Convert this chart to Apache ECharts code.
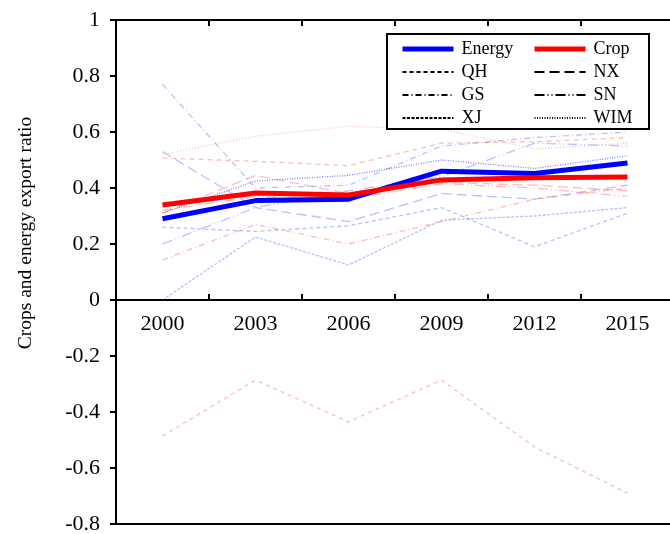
<!DOCTYPE html>
<html>
<head>
<meta charset="utf-8">
<script src="https://cdn.jsdelivr.net/npm/echarts@6/dist/echarts.min.js"></script>
<style>html,body{margin:0;padding:0;background:#fff}#c{width:670px;height:534px}</style>
</head>
<body>
<div id="c"></div>
<script>
var years = ['2000','2003','2006','2009','2012','2015'];
var yTicks = [-0.8,-0.6,-0.4,-0.2,0,0.2,0.4,0.6,0.8,1];

var energy = [0.29, 0.355, 0.36, 0.46, 0.452, 0.489];
var crop   = [0.339, 0.382, 0.375, 0.429, 0.437, 0.439];

// province energy (blue, faint)
var energyQH  = [0.26, 0.245, 0.265, 0.33, 0.19, 0.31];
var energyNX  = [0.53, 0.33, 0.28, 0.38, 0.36, 0.41];
var energyGS  = [0.77, 0.40, 0.41, 0.55, 0.58, 0.60];
var energySN  = [0.20, 0.33, 0.39, 0.44, 0.56, 0.55];
var energyXJ  = [0.00, 0.225, 0.125, 0.285, 0.30, 0.33];
var energyWIM = [0.31, 0.425, 0.445, 0.50, 0.47, 0.515];

// province crop (red, faint)
var cropQH  = [0.507, 0.495, 0.48, 0.56, 0.565, 0.58];
var cropNX  = [0.31, 0.445, 0.38, 0.42, 0.41, 0.39];
var cropGS  = [0.143, 0.27, 0.20, 0.28, 0.36, 0.40];
var cropSN  = [0.32, 0.37, 0.36, 0.415, 0.40, 0.37];
var cropXJ  = [-0.486, -0.286, -0.435, -0.286, -0.525, -0.69];
var cropWIM = [0.52, 0.585, 0.62, 0.61, 0.54, 0.56];

var dashes = {
  QH: [4, 3],
  NX: [10, 5],
  GS: [6, 3, 1, 3],
  SN: [10, 3, 1, 3, 1, 3],
  XJ: [3, 1.5],
  WIM: [1, 1.5]
};
var provinces = ['QH','NX','GS','SN','XJ','WIM'];
var energyProv = {QH: energyQH, NX: energyNX, GS: energyGS, SN: energySN, XJ: energyXJ, WIM: energyWIM};
var cropProv = {QH: cropQH, NX: cropNX, GS: cropGS, SN: cropSN, XJ: cropXJ, WIM: cropWIM};
var cropDash = {QH: [5, 4], NX: [10, 5], GS: [6, 3, 1, 3], SN: [10, 3, 1, 3, 1, 3], XJ: [4, 4], WIM: [1, 2]};

var FONT = 'Liberation Serif';
var series = [];
provinces.forEach(function (p) {
  series.push({
    name: 'e_' + p, type: 'line', data: energyProv[p], symbol: 'none', silent: true, z: 2,
    lineStyle: {color: p === 'WIM' ? 'rgba(40,40,255,0.6)' : 'rgba(70,90,255,0.38)', width: 1.3, type: dashes[p]}
  });
  series.push({
    name: 'c_' + p, type: 'line', data: cropProv[p], symbol: 'none', silent: true, z: 2,
    lineStyle: {color: 'rgba(255,60,60,0.34)', width: 1.3, type: cropDash[p]}
  });
});
series.push({name: 'Energy', type: 'line', data: energy, symbol: 'none', z: 5,
  lineStyle: {color: '#0000ff', width: 5}, itemStyle: {color: '#0000ff'}});
series.push({name: 'Crop', type: 'line', data: crop, symbol: 'none', z: 5,
  lineStyle: {color: '#ff0000', width: 5}, itemStyle: {color: '#ff0000'}});
provinces.forEach(function (p) {
  series.push({name: p, type: 'line', data: [], symbol: 'none',
    lineStyle: {color: '#000', width: 1.5, type: dashes[p]}, itemStyle: {color: '#000'}});
});

var chart = echarts.init(document.getElementById('c'), null, {renderer: 'canvas'});
var legendCommon = {
  orient: 'vertical', top: 40, padding: 0, itemWidth: 51, itemHeight: 14, itemGap: 5,
  selectedMode: false,
  itemStyle: {opacity: 0},
  textStyle: {fontFamily: FONT, fontSize: 18, color: '#000', lineHeight: 18, padding: [0, 0, 0, 3]}
};
function legItem(name, width, color) {
  return {name: name, lineStyle: {width: width, color: color}};
}
chart.setOption({
  animation: false,
  backgroundColor: '#fff',
  grid: {left: 116, top: 20, width: 558, height: 504, show: true, borderColor: '#000', borderWidth: 2,
         backgroundColor: 'transparent',
         outerBoundsMode: 'auto',
         outerBounds: {left: -200, top: -200, width: 1200, height: 1000}},
  legend: [
    Object.assign({}, legendCommon, {left: 400, data: [legItem('Energy', 5, '#0000ff'), 'QH', 'GS', 'XJ']}),
    Object.assign({}, legendCommon, {left: 532, data: [legItem('Crop', 5, '#ff0000'), 'NX', 'SN', 'WIM']})
  ],
  graphic: [
    {type: 'rect', z: 3, shape: {x: 387, y: 34, width: 262, height: 95},
     style: {fill: '#fff', stroke: '#000', lineWidth: 2}},
    {type: 'text', z: 10, x: 26, y: 233, rotation: Math.PI / 2,
     style: {text: 'Crops and energy export ratio', font: '19.5px "Liberation Serif"', fill: '#000',
             align: 'center', verticalAlign: 'middle'}}
  ],
  xAxis: [{
    // labels: bottom axis, labels pulled up to sit just below the zero line
    type: 'category', data: years, boundaryGap: true, position: 'bottom',
    axisLine: {show: false, onZero: false},
    axisTick: {show: false},
    axisLabel: {fontFamily: FONT, fontSize: 22, color: '#000', margin: -211},
    splitLine: {show: false}
  }, {
    // zero line with upward ticks
    type: 'category', data: years, boundaryGap: true, position: 'top',
    axisLine: {show: true, onZero: true, lineStyle: {color: '#000', width: 2}},
    axisTick: {show: true, inside: false, length: 6, lineStyle: {color: '#000', width: 2}},
    axisLabel: {show: false}, splitLine: {show: false}
  }, {
    // downward ticks on the zero line
    type: 'category', data: years, boundaryGap: true, position: 'top',
    axisLine: {show: false, onZero: true},
    axisTick: {show: true, inside: true, length: 6, lineStyle: {color: '#000', width: 2}},
    axisLabel: {show: false}, splitLine: {show: false}
  }],
  yAxis: {
    type: 'value', min: -0.8, max: 1, interval: 0.2,
    axisLine: {show: true, onZero: false, lineStyle: {color: '#000', width: 2}},
    axisTick: {show: true, length: 6, lineStyle: {color: '#000', width: 2}},
    axisLabel: {fontFamily: FONT, fontSize: 22, color: '#000', margin: 16,
      formatter: function (v) { return String(parseFloat(v.toFixed(1))); }},
    splitLine: {show: false}
  },
  series: series
});
</script>
</body>
</html>
